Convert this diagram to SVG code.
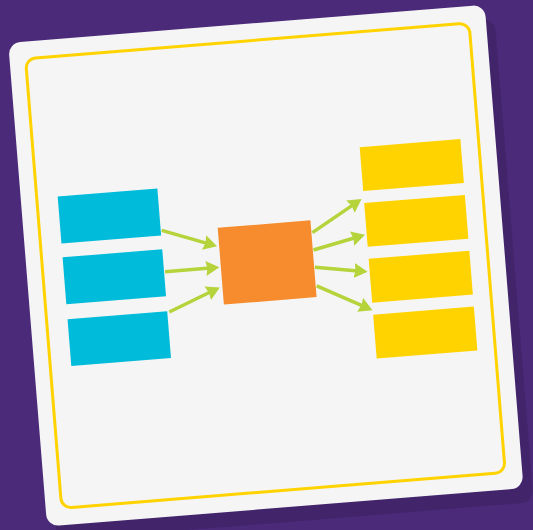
<svg xmlns="http://www.w3.org/2000/svg" width="533" height="530" viewBox="0 0 533 530">
<defs>
<style>
.blue{fill:#00BBDA}
.orange{fill:#F68C2D}
.yellow{fill:#FFD300}
.conn{stroke:#B5D33B;stroke-width:3.5;fill:none;marker-end:url(#ah)}
</style>
<marker id="ah" markerUnits="userSpaceOnUse" markerWidth="14" markerHeight="15" refX="4" refY="7.5" orient="auto">
<path d="M0,0 L13.5,7.5 L0,15 L1.5,7.5 z" fill="#B5D33B"/>
</marker>
</defs>
<rect width="533" height="530" fill="#4A2A79"/>
<g id="shadow" transform="translate(277 281) rotate(-4.6)">
<rect x="-240" y="-244" width="478" height="485" rx="12" fill="#42246B"/>
</g>
<g transform="translate(267 267) rotate(-4.6)">
<g id="card">
<rect x="-240" y="-244" width="478" height="485" rx="12" fill="#F5F5F5"/>
<rect x="-224" y="-227" width="445" height="451" rx="10" fill="none" stroke="#FFD300" stroke-width="3"/>
</g>
<g id="connectors">
<line class="conn" x1="-102" y1="-45" x2="-57" y2="-28"/>
<line class="conn" x1="-102" y1="-3.5" x2="-57" y2="-3.5"/>
<line class="conn" x1="-101" y1="37" x2="-57.5" y2="20"/>
<line class="conn" x1="48" y1="-30.6" x2="91.5" y2="-55.5"/>
<line class="conn" x1="47.6" y1="-13.2" x2="91" y2="-22.3"/>
<line class="conn" x1="47.8" y1="4.2" x2="90.5" y2="11.2"/>
<line class="conn" x1="48" y1="22.9" x2="93.3" y2="47"/>
</g>
<g id="in1"><rect class="blue" x="-203" y="-87" width="100" height="47"/></g>
<g id="in2"><rect class="blue" x="-203" y="-26" width="100" height="47"/></g>
<g id="in3"><rect class="blue" x="-203" y="36" width="100" height="47"/></g>
<g id="hub"><rect class="orange" x="-46" y="-43" width="93" height="77"/></g>
<g id="out1"><rect class="yellow" x="102" y="-112" width="101" height="44"/></g>
<g id="out2"><rect class="yellow" x="102" y="-56" width="101" height="44"/></g>
<g id="out3"><rect class="yellow" x="102" y="0" width="101" height="44"/></g>
<g id="out4"><rect class="yellow" x="102" y="56" width="101" height="44"/></g>
</g>
</svg>
